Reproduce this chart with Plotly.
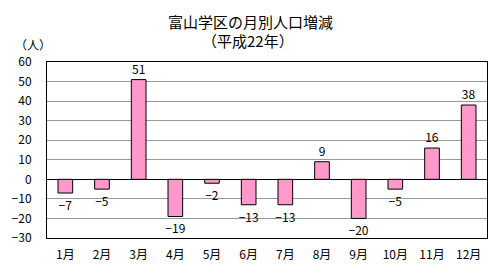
import plotly.graph_objects as go

months = ["1月", "2月", "3月", "4月", "5月", "6月", "7月", "8月", "9月", "10月", "11月", "12月"]
values = [-7, -5, 51, -19, -2, -13, -13, 9, -20, -5, 16, 38]
title_line1 = "富山学区の月別人口増減"
title_line2 = "（平成22年）"
unit_label = "（人）"
y_ticks = [-30, -20, -10, 0, 10, 20, 30, 40, 50, 60]

FONT = "Noto Sans CJK JP"
labels = [str(v).replace("-", "−") for v in values]

fig = go.Figure(go.Bar(
    x=months, y=values,
    marker=dict(color="#FF99CC", line=dict(color="black", width=1)),
    text=labels, textposition="outside", cliponaxis=False, constraintext="none",
    textfont=dict(family=FONT, size=12, color="black"),
))

L, R, T, B = 47, 13, 62, 42
W_plot = 500 - L - R
H_plot = 280 - T - B


def px2paper(px, py):
    return (px - L) / W_plot, (280 - B - py) / H_plot


anns = []
for txt, (px, py), sz in [(title_line1, (250, 21), 15), (title_line2, (248, 41), 15), (unit_label, (33, 44), 12)]:
    x, y = px2paper(px, py)
    anns.append(dict(text=txt, x=x, y=y, xref="paper", yref="paper", xanchor="center",
                     yanchor="middle", showarrow=False, font=dict(family=FONT, size=sz, color="black")))

fig.update_layout(
    width=500, height=280,
    margin=dict(l=L, r=R, t=T, b=B),
    paper_bgcolor="white", plot_bgcolor="white",
    bargap=0.6, showlegend=False,
    font=dict(family=FONT, size=12, color="black"),
    annotations=anns,
)

fig.update_xaxes(showline=True, linecolor="black", linewidth=1, mirror=True,
                 showgrid=False, ticks="", ticklabelstandoff=6,
                 tickfont=dict(family=FONT, size=12))
fig.update_yaxes(range=[-30, 60], tickvals=y_ticks, showline=True, linecolor="black",
                 linewidth=1, mirror=True, showgrid=True, gridcolor="#999999", gridwidth=1,
                 zeroline=True, zerolinecolor="black", zerolinewidth=1,
                 ticks="", ticklabelstandoff=12, tickfont=dict(family=FONT, size=12))

fig.write_html("out.html")
